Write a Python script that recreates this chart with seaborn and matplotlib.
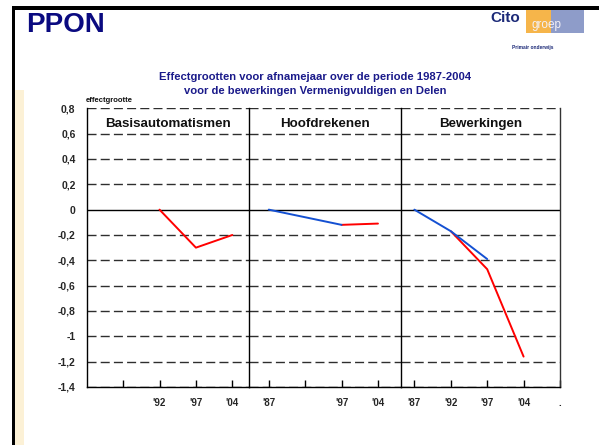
import numpy as np
import pandas as pd
import matplotlib
matplotlib.use("Agg")
import matplotlib.pyplot as plt
from matplotlib.patches import Rectangle
import seaborn as sns

# ---------------- data ----------------
panels = ["Basisautomatismen", "Hoofdrekenen", "Bewerkingen"]
years = ["'87", "'92", "'97", "'04"]

basis_rood = [np.nan, 0.0, -0.30, -0.20]
basis_blauw = [np.nan, np.nan, np.nan, np.nan]
hoofd_rood = [np.nan, np.nan, -0.12, -0.11]
hoofd_blauw = [0.0, np.nan, -0.12, np.nan]
bew_rood = [np.nan, -0.17, -0.47, -1.16]
bew_blauw = [0.0, -0.17, -0.39, np.nan]

xtick_labels = [
    ["", "'92", "'97", "'04"],
    ["'87", "", "'97", "'04"],
    ["'87", "'92", "'97", "'04", "."],
]
ytick_values = [0.8, 0.6, 0.4, 0.2, 0.0, -0.2, -0.4, -0.6, -0.8, -1.0, -1.2, -1.4]
ytick_labels = ["0,8", "0,6", "0,4", "0,2", "0", "-0,2", "-0,4", "-0,6",
                "-0,8", "-1", "-1,2", "-1,4"]

title_line1 = "Effectgrootten voor afnamejaar over de periode 1987-2004"
title_line2 = "voor de bewerkingen Vermenigvuldigen en Delen"

series_rood = [basis_rood, hoofd_rood, bew_rood]
series_blauw = [basis_blauw, hoofd_blauw, bew_blauw]

# ---------------- style ----------------
sns.set_theme(style="white")
plt.rcParams["font.family"] = ["Liberation Sans", "DejaVu Sans"]
plt.rcParams["font.weight"] = "bold"

W, H = 599, 445
fig = plt.figure(figsize=(W / 100, H / 100), dpi=100)
fig.patch.set_facecolor("white")

xlims = [(0.0, 4.45), (4.45, 8.63), (8.63, 13.0)]
widths = [b - a for a, b in xlims]

ax_left, ax_right = 86.7 / W, 560 / W
ax_top, ax_bottom = 1 - 108.3 / H, 1 - 387 / H
gs = fig.add_gridspec(1, 3, width_ratios=widths, wspace=0,
                      left=ax_left, right=ax_right, top=ax_top, bottom=ax_bottom)

palette = {"rood": "#ff0000", "blauw": "#1450d2"}
dash = (0, (6.5, 3.0))

axes = []
for i in range(3):
    ax = fig.add_subplot(gs[0, i], sharey=axes[0] if axes else None)
    axes.append(ax)
    pos = [4 * i + k + 1 for k in range(len(years))]
    rows = []
    for name, vals in (("rood", series_rood[i]), ("blauw", series_blauw[i])):
        for p, y, v in zip(pos, years, vals):
            rows.append({"pos": p, "jaar": y, "waarde": v, "serie": name})
    df = pd.DataFrame(rows).dropna()

    # gridlines
    for yv in ytick_values:
        if yv == 0.0:
            ax.axhline(yv, color="black", lw=1.0, zorder=1)
        else:
            ax.axhline(yv, color="#2e2e2e", lw=1.0, ls=dash, zorder=1)

    if len(df):
        sns.lineplot(data=df, x="pos", y="waarde", hue="serie",
                     hue_order=[s for s in ["rood", "blauw"] if s in set(df["serie"])],
                     palette=palette, legend=False, ax=ax, linewidth=1.4,
                     estimator=None, sort=True, zorder=3)

    ax.set_xlim(*xlims[i])
    ax.set_ylim(-1.4, 0.8)
    ticks = pos + ([13] if i == 2 else [])
    ax.set_xticks(ticks)
    ax.set_xticklabels(xtick_labels[i], fontsize=7, fontweight="bold")
    ax.tick_params(axis="x", direction="in", length=5, width=1.0, color="black",
                   pad=8, bottom=True)
    ax.set_yticks(ytick_values)
    if i == 0:
        ax.set_yticklabels(ytick_labels, fontsize=7.5, fontweight="bold")
        ax.tick_params(axis="y", length=0, pad=8)
    else:
        ax.tick_params(axis="y", length=0, labelleft=False)
    ax.set_xlabel("")
    ax.set_ylabel("")
    ax.grid(False)
    ax.spines["top"].set_visible(False)
    ax.spines["left"].set_color("black")
    ax.spines["left"].set_linewidth(1.0)
    ax.spines["bottom"].set_color("black")
    ax.spines["bottom"].set_linewidth(1.0)
    if i == 2:
        ax.spines["right"].set_color("#333333")
        ax.spines["right"].set_linewidth(1.0)
    else:
        ax.spines["right"].set_visible(False)

    ax.text(0.5, 0.9426, panels[i], transform=ax.transAxes, ha="center",
            va="center", fontsize=9.6, fontweight="bold", color="#111111")

# ---------------- slide decoration ----------------
def px_rect(x0, y0, x1, y1, **kw):
    fig.patches.append(Rectangle((x0 / W, 1 - y1 / H), (x1 - x0) / W, (y1 - y0) / H,
                                 transform=fig.transFigure, figure=fig, **kw))

px_rect(15, 90, 24, 445, color="#fcf1d6", lw=0, zorder=0)
px_rect(12, 6, 599, 10, color="black", lw=0, zorder=5)
px_rect(12, 6, 15, 445, color="black", lw=0, zorder=5)

fig.text(26 / W, 1 - 25.5 / H, "PPON", fontsize=20, fontweight="bold",
         color="#0a0a80", ha="left", va="center")

# logo
px_rect(526, 10, 551, 33, color="#f6b54a", lw=0, zorder=1)
px_rect(551, 10, 584, 33, color="#8e9cc9", lw=0, zorder=1)
fig.text(505 / W, 1 - 18.5 / H, "Cito", fontsize=11, fontweight="bold",
         color="#1c2a78", ha="center", va="center", zorder=3)
fig.text(547 / W, 1 - 25 / H, "groep", fontsize=8.5, fontweight="normal",
         color="#f3f0f5", ha="center", va="center", zorder=3)
fig.text(533 / W, 1 - 48 / H, "Primair onderwijs", fontsize=3.5, fontweight="bold",
         color="#1c2a78", ha="center", va="center")

# titles
fig.text(315 / W, 1 - 77 / H, title_line1, fontsize=8.1, fontweight="bold",
         color="#1a1a8a", ha="center", va="center")
fig.text(315 / W, 1 - 91.5 / H, title_line2, fontsize=8.1, fontweight="bold",
         color="#1a1a8a", ha="center", va="center")
fig.text(86 / W, 1 - 100.5 / H, "effectgrootte", fontsize=5.5, fontweight="bold",
         color="#111111", ha="left", va="center")

fig.savefig("out.png", dpi=100, facecolor="white")
